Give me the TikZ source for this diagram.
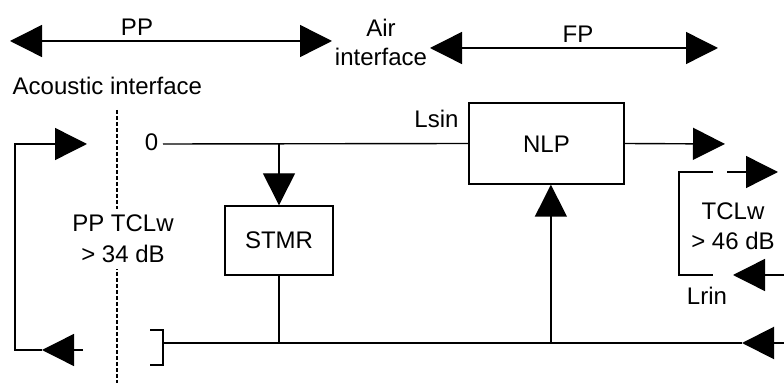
\documentclass[tikz,border=0pt]{standalone}
\usepackage{fontspec}
\setmainfont{Liberation Sans}
\usetikzlibrary{arrows.meta,positioning}

\tikzset{
  block/.style={draw, line width=0.7pt, inner sep=0pt},
  bigtip/.style={>={Triangle[length=16pt,width=16pt]}},
  label/.style={inner sep=0pt, anchor=base},
  twoline/.style={inner sep=3pt, align=center, font=\fontsize{12}{#1}\selectfont}
}

\begin{document}
\begin{tikzpicture}[x=0.5pt,y=-0.5pt,bigtip,line width=0.7pt,
    font=\fontsize{12}{14.5}\selectfont]
  \useasboundingbox (0,0) rectangle (784,385);

  % boxes
  \node[block, minimum width=77.5pt, minimum height=40.5pt] (nlp)  at (546.5,143.5) {};
  \node[block, minimum width=54pt,   minimum height=34.5pt] (stmr) at (279,240.5)   {};
  \node[label] at (546.5,153) {NLP};
  \node[label] at (279,249) {STMR};

  % points
  \coordinate (zero)  at (163,144);
  \coordinate (bl)    at (163,343);
  \coordinate (br)    at (784,343);
  \coordinate (btip)  at (742,343);
  \coordinate (nlpin) at ([xshift=2.2pt]nlp.south);
  \coordinate (out)   at (725,144);
  \coordinate (rt)    at (713,172);
  \coordinate (rb)    at (713,275);
  \coordinate (echo)  at (778,172);
  \coordinate (rsrc)  at (784,275);
  \coordinate (rin)   at (733,275);
  \coordinate (ltop)  at (87,144);
  \coordinate (lbot)  at (83,350);
  \coordinate (lmid)  at (42,350);
  \coordinate (ppL)   at (10,41);
  \coordinate (ppR)   at (332,41);
  \coordinate (fpL)   at (430,48);
  \coordinate (fpR)   at (718,48);

  % top ranges
  \draw[<->] (ppL) -- (ppR);
  \draw[<->] (fpL) -- (fpR);
  \node[label] (pp) at (137,36) {PP};
  \node[label] (fp) at (578,43) {FP};
  \node[twoline=14.5pt, inner sep=0pt] (air) at (381,42) {Air\\interface};
  \node[label, anchor=base west] (ac) at (12,95) {Acoustic interface};

  % acoustic interface line
  \draw[line width=0.6pt, dash pattern=on 2pt off 1pt] (117,110) -- (117,383);
  \node[twoline=15.5pt, fill=white] (pptcl) at (123,239) {PP TCLw\\> 34 dB};

  % send path
  \node[label] at (151.5,151) {0};
  \draw (zero) -- (nlp.west);
  \draw[->] (stmr.north |- zero) -- (stmr.north);
  \draw[->] (nlp.east) -- (out);
  \node[label] (lsin) at (436.5,128) {Lsin};

  % receive path
  \draw[->, line width=1pt] (br) -- (btip);
  \draw[line width=1pt] (btip) -- (bl);
  \draw (bl) ++(-13,-13) -- ++(13,0) -- ++(0,35) -- ++(-13,0);
  \draw (stmr.south) -- (stmr.south |- bl);
  \draw[->] (nlpin |- bl) -- (nlpin);

  % far end echo
  \draw (rt) -- ++(-34,0) |- (rb);
  \draw[->] ([xshift=7pt]rt) -- (echo);
  \draw[->] (rsrc) -- (rin);
  \node[twoline=15pt, inner sep=0pt] (fptcl) at (733,226.5) {TCLw\\> 46 dB};
  \node[label] (lrin) at (707,305) {Lrin};

  % near end loop
  \draw[->] (lbot) -- (lmid);
  \draw[->] (lmid) -- (15,350) |- (ltop);
\end{tikzpicture}
\end{document}
